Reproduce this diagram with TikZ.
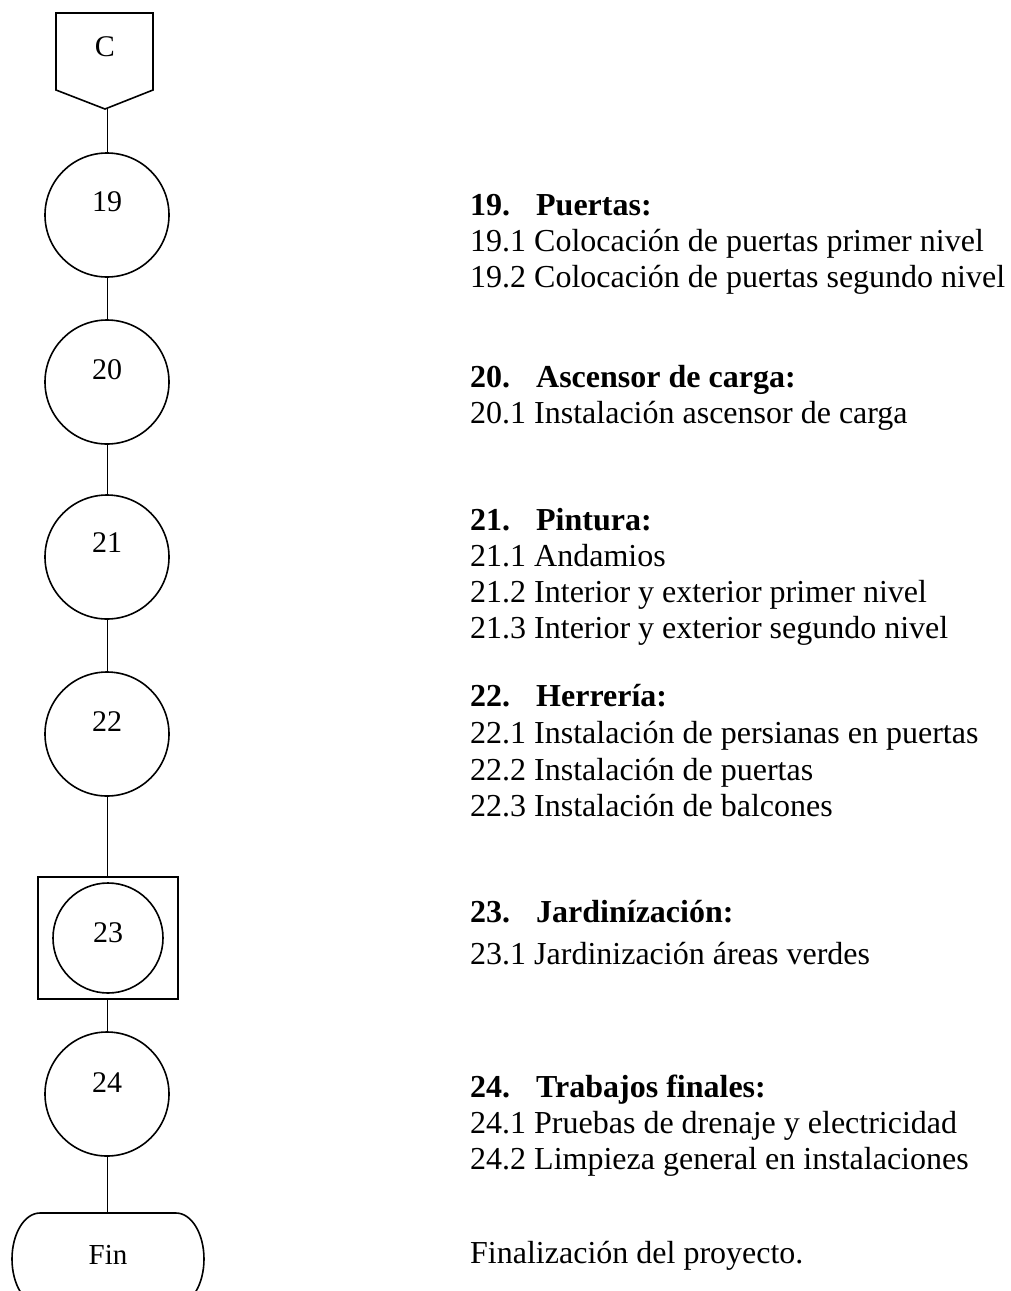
\documentclass[tikz,border=0pt]{standalone}
\usepackage{fontspec}
\setmainfont{Liberation Serif}
\begin{document}
\begin{tikzpicture}[x=1pt,y=-1pt,
  shp/.style={draw, line width=1.6pt},
  conn/.style={draw, line width=1pt},
  circ/.style={shp, circle, minimum size=124pt, inner sep=0pt},
  smallcirc/.style={shp, circle, minimum size=110pt, inner sep=0pt},
  num/.style={inner sep=0pt, font=\fontsize{30}{32}\selectfont},
  txt/.style={anchor=base west, inner sep=0pt, font=\fontsize{32}{36}\selectfont},
  hd/.style={txt, font=\fontsize{32}{36}\selectfont\bfseries}]
\clip (0,0) rectangle (1010,1291);
\fill[white] (0,0) rectangle (1010,1291);
% connector C
\draw[shp] (56,13) -- (153,13) -- (153,90) -- (105,109) -- (56,90) -- cycle;
\node[inner sep=0pt, font=\fontsize{30}{32}\selectfont] (C) at (105,47) {C};
\coordinate (Cp) at (107,109);
% circles
\node[circ] (c19) at (107,215) {};
\node[num] (n19) at (107,202) {19};
\node[circ] (c20) at (107,382) {};
\node[num] (n20) at (107,370) {20};
\node[circ] (c21) at (107,557) {};
\node[num] (n21) at (107,543) {21};
\node[circ] (c22) at (107,734) {};
\node[num] (n22) at (107,722) {22};
\node[shp, minimum width=140pt, minimum height=122pt, inner sep=0pt] (sq23) at (108,938) {};
\node[smallcirc] (c23) at (108,938) {};
\node[num] (n23) at (108,933) {23};
\node[circ] (c24) at (107,1094) {};
\node[num] (n24) at (107,1083) {24};
% Fin terminal
\draw[shp] (40,1213) -- (176,1213)
  .. controls (191.5,1213) and (204,1233.6) .. (204,1259)
  .. controls (204,1284.4) and (191.5,1305) .. (176,1305) -- (40,1305)
  .. controls (24.5,1305) and (12,1284.4) .. (12,1259)
  .. controls (12,1233.6) and (24.5,1213) .. (40,1213) -- cycle;
\coordinate (fin) at (107,1213);
\node[inner sep=0pt, font=\fontsize{29}{32}\selectfont] (Fin) at (108,1255) {Fin};
% connectors
\draw[conn] (Cp) -- (c19.north);
\draw[conn] (c19.south) -- (c20.north);
\draw[conn] (c20.south) -- (c21.north);
\draw[conn] (c21.south) -- (c22.north);
\draw[conn] (c22.south) -- (c22.south |- sq23.north);
\draw[conn] (c24.north |- sq23.south) -- (c24.north);
\draw[conn] (c24.south) -- (fin);
% texts
\newcommand{\hnum}[1]{\makebox[66pt][l]{#1}}
\node[hd] (h19) at (470,215) {\hnum{19.}Puertas:};
\node[txt] (t191) at (470,251) {19.1 Colocación de puertas primer nivel};
\node[txt] (t192) at (470,287) {19.2 Colocación de puertas segundo nivel};
\node[hd] (h20) at (470,387) {\hnum{20.}Ascensor de carga:};
\node[txt] (t201) at (470,423) {20.1 Instalación ascensor de carga};
\node[hd] (h21) at (470,530) {\hnum{21.}Pintura:};
\node[txt] (t211) at (470,566) {21.1 Andamios};
\node[txt] (t212) at (470,602) {21.2 Interior y exterior primer nivel};
\node[txt] (t213) at (470,638) {21.3 Interior y exterior segundo nivel};
\node[hd] (h22) at (470,706) {\hnum{22.}Herrería:};
\node[txt] (t221) at (470,743) {22.1 Instalación de persianas en puertas};
\node[txt] (t222) at (470,780) {22.2 Instalación de puertas};
\node[txt] (t223) at (470,816) {22.3 Instalación de balcones};
\node[hd] (h23) at (470,922) {\hnum{23.}Jardinízación:};
\node[txt] (t231) at (470,964) {23.1 Jardinización áreas verdes};
\node[hd] (h24) at (470,1097) {\hnum{24.}Trabajos finales:};
\node[txt] (t241) at (470,1133) {24.1 Pruebas de drenaje y electricidad};
\node[txt] (t242) at (470,1169) {24.2 Limpieza general en instalaciones};
\node[txt] (tfin) at (470,1263) {Finalización del proyecto.};
\end{tikzpicture}
\end{document}
